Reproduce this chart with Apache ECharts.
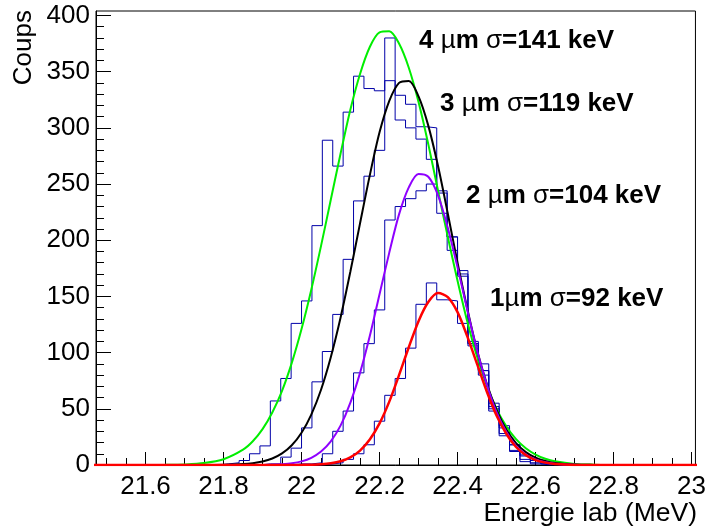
<!DOCTYPE html>
<html>
<head>
<meta charset="utf-8">
<script src="https://cdn.jsdelivr.net/npm/echarts@6/dist/echarts.min.js"></script>
<style>
html, body { margin: 0; padding: 0; background: #fff; }
#chart { width: 709px; height: 531px; }
</style>
</head>
<body>
<div id="chart"></div>
<script>
// histogram binning (MeV)
var binLow = 21.46667;
var binWidth = 0.026667;
var nBins = 58;
var firstBin = 10; // the count lists below start at this bin

// counts per bin, from bin firstBin on
var counts4um = [0,0,1,2,4,10,17,57,77,126, 146,213,289,266,314,346,335,333,380,307, 300,290,272,224,191,168,110,90,52,33, 18,8,4,2,1,0];
var counts3um = [0,0,0,0,0,0,1,1,7,15, 33,74,101,134,183,235,257,280,342,329, 321,301,300,244,203,173,108,84,50,28, 13,5,2,1,0,0];
var counts2um = [0,0,0,0,0,0,0,0,0,1, 1,2,10,30,48,82,108,138,218,230, 237,244,250,242,203,170,108,80,48,26, 12,3,1,0,0,0];
var counts1um = [0,0,0,0,0,0,0,0,0,0, 0,0,1,2,5,10,18,39,62,77, 104,143,162,147,146,126,106,84,55,35, 18,9,4,1,0,0];

// fitted curves
var fitX = [21.45,21.50,21.55,21.60,21.65,21.70,21.75,21.80,21.85,
  21.875,21.90,21.925,21.95,21.975,22.00,22.025,22.05,22.075,22.10,
  22.125,22.15,22.175,22.20,22.225,22.25,22.275,22.30,22.325,22.35,
  22.375,22.40,22.425,22.45,22.475,22.50,22.525,22.55,22.575,22.60,22.625,
  22.65,22.70,22.75,22.80,22.85,22.90,22.95,23.00,23.05];
var fit4um = [0,0,0,0.03,0.13,0.5,1.7,5.1,13.6,
  21.1,31.9,46.7,66,90.9,121,156,195,236,277,
  316,348,372,385,386,375,353.5,323,285.5,244,
  203,164,127.7,96.5,70.7,50,34.5,23,14.9,9.3,5.6,
  3.3,1.0,0.3,0.07,0,0,0,0,0];
var fit3um = [0,0,0,0,0,0,0,0.17,0.8,
  1.6,3.1,5.8,10.3,17.6,28.7,44.9,67,95.9,131,
  171.7,215,257.7,296,324,340,341.8,328,302,266,
  223.8,180,139,102,72.3,49,31.5,19.5,11.5,6.5,3.5,
  1.8,0.4,0.1,0,0,0,0,0,0];
var fit2um = [0,0,0,0,0,0,0,0,0,
  0,0.1,0.3,0.7,1.5,3.2,6.4,12,21.1,35,
  55.3,82,114.7,152,189,223,247,259,256.5,240,
  211,176,138,102,71.6,47,29.5,17,9.6,5,2.5,
  1.2,0.2,0,0,0,0,0,0,0];
var fit1um = [0,0,0,0,0,0,0,0,0,
  0,0,0,0,0,0.1,0.25,0.6,1.5,3.3,
  6.7,12.8,22.6,37,56.4,80,104.8,128,145,153,
  149.4,136,114.5,90,65.4,44,27.8,16,8.8,4.4,2.1,
  0.9,0.1,0,0,0,0,0,0,0];

// labels
var layers = ['4', '3', '2', '1'];
var sigmas = [141, 119, 104, 92];

// axes
var xMin = 21.473, xMax = 23.01;
var yMin = 0, yMax = 404;
var xMajor = [21.6, 21.8, 22, 22.2, 22.4, 22.6, 22.8, 23];
var yMajor = [0, 50, 100, 150, 200, 250, 300, 350, 400];
var xMinor = [];
for (var t = 21.5; t <= 23.0001; t += 0.05) xMinor.push(Math.round(t * 100) / 100);
var yMinor = [];
for (var v = 0; v <= 400; v += 10) yMinor.push(v);

var FONT = 'Liberation Sans, Arial, Helvetica, sans-serif';

function histData(counts) {
  var pts = [];
  for (var k = 0; k <= nBins; k++) {
    var i = k - firstBin;
    var c = (i >= 0 && i < counts.length) ? counts[i] : 0;
    pts.push([binLow + k * binWidth, c]);
  }
  return pts;
}
function fitData(ys) {
  return fitX.map(function (x, i) { return [x, ys[i]]; });
}

var histColor = '#0000a8';
var series = [];
[counts4um, counts3um, counts2um, counts1um].forEach(function (c) {
  series.push({
    type: 'line', step: 'end', data: histData(c), showSymbol: false,
    lineStyle: { color: histColor, width: 1 }, z: 2
  });
});
var fits = [fit4um, fit3um, fit2um, fit1um];
var fitColors = ['#00ee00', '#000000', '#8f00ff', '#ff0000'];
var fitWidths = [2, 2, 2, 2.5];
fits.forEach(function (f, i) {
  series.push({
    type: 'line', data: fitData(f), smooth: 0.3, showSymbol: false,
    lineStyle: { color: fitColors[i], width: fitWidths[i] }, z: 3 + i
  });
});

// annotation placement (pixels)
var labelPos = [[419, 41], [440, 104], [466, 196], [490, 299]];
var graphics = layers.map(function (l, i) {
  var sp = l === '1' ? '' : ' ';
  return {
    type: 'text', left: labelPos[i][0], top: labelPos[i][1] - 13,
    style: {
      text: '{b|' + l + sp + '}{s|µ}{b|m }{s|σ}{b|=' + sigmas[i] + ' keV}',
      rich: {
        b: { fontSize: 26, fontWeight: 'bold', fontFamily: FONT, fill: '#000' },
        s: { fontSize: 26, fontFamily: FONT, fill: '#000' }
      }
    }
  };
});
graphics.push({
  type: 'text', right: 12, top: 500,
  style: { text: 'Energie lab (MeV)', fontSize: 26.5, fontFamily: FONT, fill: '#000' }
});
graphics.push({
  type: 'text', x: 24, y: 10, rotation: Math.PI / 2,
  style: { text: 'Coups', fontSize: 26, fontFamily: FONT, fill: '#000', align: 'right', verticalAlign: 'middle' }
});

var chart = echarts.init(document.getElementById('chart'));
chart.setOption({
  animation: false,
  backgroundColor: '#fff',
  grid: { left: 96, right: 11, top: 11, bottom: 66, show: true, borderColor: '#000', borderWidth: 1 },
  xAxis: [{
    type: 'value', min: xMin, max: xMax, position: 'bottom',
    axisLine: { onZero: false, lineStyle: { color: '#000', width: 1 } },
    axisTick: { inside: true, length: 13, customValues: xMajor, lineStyle: { color: '#000' } },
    axisLabel: { customValues: xMajor, fontSize: 26, fontFamily: FONT, color: '#000', margin: 9 },
    splitLine: { show: false }
  }, {
    type: 'value', min: xMin, max: xMax, position: 'bottom',
    axisLine: { show: false },
    axisTick: { inside: true, length: 7, customValues: xMinor, lineStyle: { color: '#000' } },
    axisLabel: { show: false },
    splitLine: { show: false }
  }],
  yAxis: [{
    type: 'value', min: yMin, max: yMax, position: 'left',
    axisLine: { show: true, onZero: false, lineStyle: { color: '#000', width: 1 } },
    axisTick: { show: true, inside: true, length: 15, customValues: yMajor, lineStyle: { color: '#000' } },
    axisLabel: { customValues: yMajor, fontSize: 26, fontFamily: FONT, color: '#000', margin: 6 },
    splitLine: { show: false }
  }, {
    type: 'value', min: yMin, max: yMax, position: 'left',
    axisLine: { show: false },
    axisTick: { show: true, inside: true, length: 8, customValues: yMinor, lineStyle: { color: '#000' } },
    axisLabel: { show: false },
    splitLine: { show: false }
  }],
  series: series,
  graphic: graphics
});
</script>
</body>
</html>
